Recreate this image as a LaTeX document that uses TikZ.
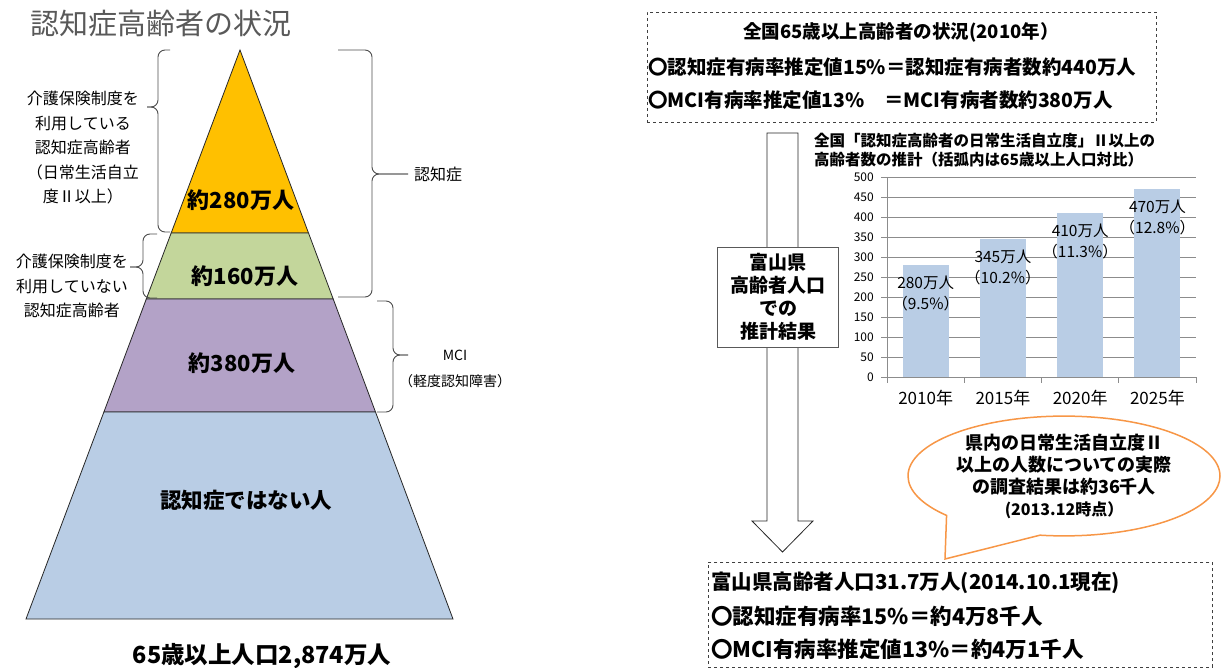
\documentclass[tikz,border=0pt]{standalone}
\usepackage{fontspec}
\setmainfont{Noto Sans CJK JP}
\usepackage{tikz}
\usetikzlibrary{shapes.geometric,shapes.callouts}
\usetikzlibrary{positioning}
\definecolor{jaune}{HTML}{FFC000}
\definecolor{vert}{HTML}{C3D69B}
\definecolor{mauve}{HTML}{B3A2C7}
\definecolor{bleuclair}{HTML}{B9CDE5}
\definecolor{orangebulle}{HTML}{F79646}
\definecolor{gristitre}{HTML}{595959}
\newcommand{\Taille}[2]{\fontsize{#1}{#2}\selectfont}
\newcommand{\Accolade}[6]{%
  \draw[accolade] (#1,#4) -- (#2,#4) -- (#2,#5) -- (#3,#5);
  \draw[accolade] (#3,#5) -- (#2,#5) -- (#2,#6) -- (#1,#6);}

\begin{document}
\begin{tikzpicture}[x=1pt, y=-1pt, node distance=33pt,
    couche/.style={draw=black!85, line width=0.8pt},
    valeur/.style={font=\bfseries\Taille{22}{26}},
    legende/.style={font=\Taille{16}{24.5}, align=center, inner sep=1pt},
    accolade/.style={draw=black!70, line width=0.9pt, rounded corners=7pt},
    cadre/.style={draw=black!75, dashed, line width=0.8pt},
    texte/.style={font=\bfseries\Taille{19.5}{24}, inner sep=1pt},
    grille/.style={draw=black!45, line width=0.7pt},
    graduation/.style={font=\Taille{12}{14}, anchor=east, inner sep=1pt},
    petit/.style={font=\Taille{15.5}{21}, align=center, inner sep=1pt}]
  \useasboundingbox (0,0) rectangle (1221,668);

  \node[font=\Taille{29}{32}, text=gristitre, anchor=west, inner sep=0pt] (Titre) at (30,23) {認知症高齢者の状況};

  \filldraw[couche, fill=jaune] (240,50) -- (308.5,233) -- (171.2,233) -- cycle;
  \filldraw[couche, fill=vert] (171.2,233) -- (308.5,233) -- (333.2,299) -- (146.3,299) -- cycle;
  \filldraw[couche, fill=mauve] (146.3,299) -- (333.2,299) -- (375.5,412) -- (103.9,412) -- cycle;
  \filldraw[couche, fill=bleuclair] (103.9,412) -- (375.5,412) -- (453,619) -- (26,619) -- cycle;
  \node[valeur] (V280) at (241,200) {約280万人};
  \node[valeur] (V160) at (245,276) {約160万人};
  \node[valeur] (V380) at (242,363) {約380万人};
  \node[valeur, font=\bfseries\Taille{21.5}{26}] (Autres) at (246,500) {認知症ではない人};
  \node[font=\bfseries\Taille{23.5}{28}] (Total) at (262,656) {65歳以上人口2,874万人};

  \Accolade{170}{158}{147}{50}{107}{232}
  \Accolade{157}{143}{130}{234}{267}{298}
  \Accolade{338}{372}{408}{50}{174}{297}
  \Accolade{377}{393}{408}{301}{355}{412}
  \node[legende] (Kaigo) at (83,148) {介護保険制度を\\利用している\\認知症高齢者\\（日常生活自立\\度Ⅱ以上）};
  \node[legende] (SansKaigo) at (72,286) {介護保険制度を\\利用していない\\認知症高齢者};
  \node[legende, anchor=west] (Demence) at (413,174) {認知症};
  \node[legende, font=\Taille{14}{26}] (MCI) at (455,369) {MCI\\（軽度認知障害）};

  \node[cadre, minimum width=509pt, minimum height=110pt] (Zenkoku) at (901.5,67) {};
  \node[texte, font=\bfseries\Taille{18.5}{24}] (ZTitre) at (901,32) {全国65歳以上高齢者の状況(2010年）};
  \node[texte, anchor=west] (ZLigne1) at (647,67) {〇認知症有病率推定値15\%＝認知症有病者数約440万人};
  \node[texte, below=of ZLigne1.west, anchor=west] (ZLigne2) {〇MCI有病率推定値13\%　＝MCI有病者数約380万人};

  \filldraw[couche, fill=white] (767,133) -- (798,133) -- (798,521) -- (813,521) -- (782.5,552) -- (752,521) -- (767,521) -- cycle;
  \node[draw=black!65, fill=white, line width=0.8pt, minimum width=121pt, minimum height=100pt, align=center, font=\bfseries\Taille{19}{23}] (Toyama) at (778,297) {富山県\\高齢者人口\\での\\推計結果};

  \node[font=\bfseries\Taille{15.5}{18.5}, align=left, anchor=west, inner sep=1pt] (GTitre) at (813,150) {全国「認知症高齢者の日常生活自立度」Ⅱ以上の\\高齢者数の推計（括弧内は65歳以上人口対比）};
  \foreach \v in {0,50,...,500} {
    \draw[grille] (881,377-0.4*\v) -- (1196,377-0.4*\v);
    \node[graduation] (G\v) at (875,377-0.4*\v) {\v};
  }
  \draw[grille] (887,177) -- (887,377);
  \foreach \k in {0,...,4}
    \draw[grille] (887+77.25*\k,377) -- (887+77.25*\k,383);
  \foreach \an/\val/\pct [count=\i] in {2010/280/9.5, 2015/345/10.2, 2020/410/11.3, 2025/470/12.8} {
    \fill[bleuclair] (825.4+77.25*\i,377) rectangle ++(46,-0.4*\val);
    \node[petit] (B\an) at (848.4+77.25*\i,405.5-0.4*\val) {\val 万人\\（\pct\%）};
    \node[font=\Taille{17}{19}] (A\an) at (848.4+77.25*\i,398) {\an 年};
  }

  \node[cadre, minimum width=504pt, minimum height=105pt, anchor=north west] (Toyama2) at (708,562) {};
  \node[texte, font=\bfseries\Taille{20.5}{24}, anchor=west] (TLigne1) at (710,583) {富山県高齢者人口31.7万人(2014.10.1現在)};
  \node[texte, font=\bfseries\Taille{21.5}{24}, below=of TLigne1.west, anchor=west] (TLigne2) {〇認知症有病率15\%＝約4万8千人};
  \node[texte, font=\bfseries\Taille{21.5}{24}, below=of TLigne2.west, anchor=west] (TLigne3) {〇MCI有病率推定値13\%＝約4万1千人};

  \coordinate (Pointe) at (945,559);
  \node[ellipse callout, draw=orangebulle, fill=white, line width=1.5pt, callout absolute pointer=(Pointe), callout pointer arc=40, minimum width=312pt, minimum height=112pt, inner sep=0pt, align=center, font=\bfseries\Taille{18}{22}] (Bulle) at (1064,476) {県内の日常生活自立度Ⅱ\\以上の人数についての実際\\の調査結果は約36千人\\{\Taille{16}{19}(2013.12時点）}};
\end{tikzpicture}
\end{document}
